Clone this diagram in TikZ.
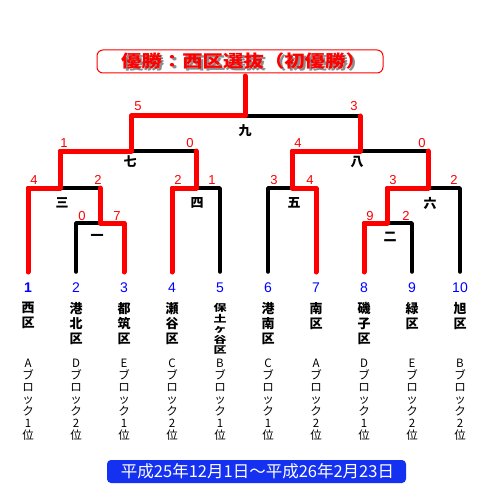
\documentclass[tikz,border=0pt]{standalone}
\usepackage{fontspec}
\newfontfamily\jp{Noto Sans CJK JP}
\newfontfamily\lsans{Liberation Sans}
\definecolor{bannerblue}{RGB}{20,48,240}
\begin{document}
\begin{tikzpicture}[x=1pt,y=-1pt,
  blk/.style={line width=3.5pt, line cap=round, line join=round, black},
  win/.style={line width=5pt, red, line cap=round, line join=round},
  score/.style={font=\lsans\fontsize{13}{13}\selectfont, text=red, inner sep=0pt},
  rnd/.style={font=\jp\bfseries\fontsize{13}{13}\selectfont, inner sep=0pt},
  num/.style={font=\lsans\fontsize{14}{14}\selectfont, text=blue, inner sep=0pt},
  cname/.style={font=\jp\bfseries\fontsize{13}{15}\selectfont, align=center, inner sep=0pt, anchor=north},
  blockl/.style={font=\jp\fontsize{11.5}{12}\selectfont, align=center, inner sep=0pt, anchor=north}]
\useasboundingbox (0,0) rectangle (500,500);
% leaves
\coordinate (e1) at (28,272);
\coordinate (e2) at (76,272);
\coordinate (e3) at (124,272);
\coordinate (e4) at (172,272);
\coordinate (e5) at (220,272);
\coordinate (e6) at (268,272);
\coordinate (e7) at (316,272);
\coordinate (e8) at (364,272);
\coordinate (e9) at (412,272);
\coordinate (e10) at (460,272);
% matches
\coordinate (m1) at (100,223);
\coordinate (m3) at (60,188);
\coordinate (m4) at (196,188);
\coordinate (m7) at (131,151);
\coordinate (m9) at (245,116);
\coordinate (m5) at (292,188);
\coordinate (m2) at (387,223);
\coordinate (m6) at (428,188);
\coordinate (m8) at (360,151);
\coordinate (champ) at (245,76);
% black bracket
\draw[blk] (e2) |- (m1) -| (e3);
\draw[blk] (e1) |- (m3) -| (m1);
\draw[blk] (e4) |- (m4) -| (e5);
\draw[blk] (m3) |- (m7) -| (m4);
\draw[blk] (m7) |- (m9) -| (m8);
\draw[blk] (e6) |- (m5) -| (e7);
\draw[blk] (e8) |- (m2) -| (e9);
\draw[blk] (m2) |- (m6) -| (e10);
\draw[blk] (m5) |- (m8) -| (m6);
% winners
\draw[win] (e1) |- (m3) |- (m7) |- (m9) -- (champ);
\draw[win] (e3) |- (m1) -- (m1 |- m3);
\draw[win] (e4) |- (m4) -- (m4 |- m7);
\draw[win] (e7) |- (m5) |- (m8) -- (m8 |- m9);
\draw[win] (e8) |- (m2) |- (m6) -- (m6 |- m8);
% scores
\node[score] (s9a) at (138,106) {5};
\node[score] (s9b) at (354,106) {3};
\node[score] (s7a) at (64,143) {1};
\node[score] (s7b) at (190,143) {0};
\node[score] (s3a) at (34,180) {4};
\node[score] (s3b) at (98,180) {2};
\node[score] (s1a) at (82,216) {0};
\node[score] (s1b) at (117,216) {7};
\node[score] (s4a) at (178,180) {2};
\node[score] (s4b) at (212,180) {1};
\node[score] (s8a) at (298,143) {4};
\node[score] (s8b) at (422,143) {0};
\node[score] (s5a) at (274,180) {3};
\node[score] (s5b) at (310,180) {4};
\node[score] (s6a) at (393,180) {3};
\node[score] (s6b) at (454,180) {2};
\node[score] (s2a) at (370,216) {9};
\node[score] (s2b) at (406,216) {2};
% round labels
\node[rnd] (r9) at (245,131) {九};
\node[rnd] (r7) at (130,162) {七};
\node[rnd] (r8) at (357,162) {八};
\node[rnd] (r3) at (62,203) {三};
\node[rnd] (r4) at (197,203) {四};
\node[rnd] (r5) at (294,203) {五};
\node[rnd] (r6) at (430,203) {六};
\node[rnd] (r1) at (97,237) {一};
\node[rnd] (r2) at (390,237) {二};
% entrant numbers
\node[num, font=\lsans\bfseries\fontsize{14}{14}\selectfont] (n1) at (28,288) {1};
\node[num] (n2) at (76,288) {2};
\node[num] (n3) at (124,288) {3};
\node[num] (n4) at (172,288) {4};
\node[num] (n5) at (220,288) {5};
\node[num] (n6) at (268,288) {6};
\node[num] (n7) at (316,288) {7};
\node[num] (n8) at (364,288) {8};
\node[num] (n9) at (412,288) {9};
\node[num] (n10) at (460,288) {10};
% names
\node[cname] (t1) at (28,302) {西\\区};
\node[cname] (t2) at (76,302) {港\\北\\区};
\node[cname] (t3) at (124,302) {都\\筑\\区};
\node[cname] (t4) at (172,302) {瀬\\谷\\区};
\node[cname] (t5) at (220,303) {\scalebox{1}[0.74]{\fontsize{13}{13}\selectfont\begin{tabular}{@{}c@{}}保\\土\\ヶ\\谷\\区\end{tabular}}};
\node[cname] (t6) at (268,302) {港\\南\\区};
\node[cname] (t7) at (316,302) {南\\区};
\node[cname] (t8) at (364,302) {磯\\子\\区};
\node[cname] (t9) at (412,302) {緑\\区};
\node[cname] (t10) at (460,302) {旭\\区};
% blocks
\node[blockl] (b1) at (28,359) {A\\ブ\\ロ\\ッ\\ク\\1\\位};
\node[blockl] (b2) at (76,359) {D\\ブ\\ロ\\ッ\\ク\\2\\位};
\node[blockl] (b3) at (124,359) {E\\ブ\\ロ\\ッ\\ク\\1\\位};
\node[blockl] (b4) at (172,359) {C\\ブ\\ロ\\ッ\\ク\\2\\位};
\node[blockl] (b5) at (220,359) {B\\ブ\\ロ\\ッ\\ク\\1\\位};
\node[blockl] (b6) at (268,359) {C\\ブ\\ロ\\ッ\\ク\\1\\位};
\node[blockl] (b7) at (316,359) {A\\ブ\\ロ\\ッ\\ク\\2\\位};
\node[blockl] (b8) at (364,359) {D\\ブ\\ロ\\ッ\\ク\\1\\位};
\node[blockl] (b9) at (412,359) {E\\ブ\\ロ\\ッ\\ク\\2\\位};
\node[blockl] (b10) at (460,359) {B\\ブ\\ロ\\ッ\\ク\\2\\位};
% title
\node[draw=red, fill=white, rounded corners=6pt, line width=1pt, minimum width=286pt, minimum height=23pt, inner sep=0pt] (title) at (240,61.5) {};
\node[font=\jp\bfseries\fontsize{17}{17}\selectfont, inner sep=0pt] (ttext) at (243.5,62.5) {\scalebox{1.2}[1]{\makebox[0pt][l]{\raisebox{-2pt}{\hspace{2pt}\textcolor{black!45}{優勝：西区選抜（初優勝）}}}\textcolor{red}{優勝：西区選抜（初優勝）}}};
% banner
\node[fill=bannerblue, rounded corners=4pt, minimum width=299pt, minimum height=23pt, inner sep=0pt] (banner) at (256.5,471.5) {};
\node[font=\jp\fontsize{16.5}{16.5}\selectfont, text=white, inner sep=0pt] (btext) at (257.5,471.5) {平成25年12月1日～平成26年2月23日};
\end{tikzpicture}
\end{document}
